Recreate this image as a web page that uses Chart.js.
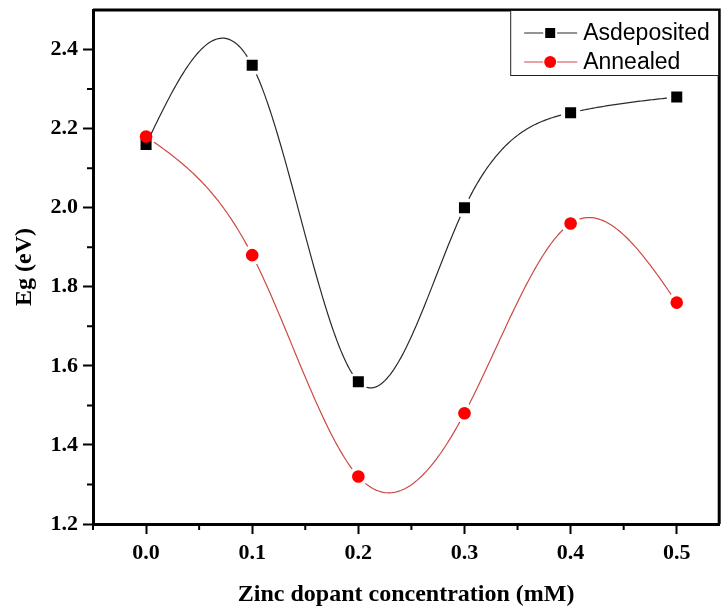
<!DOCTYPE html>
<html>
<head>
<meta charset="utf-8">
<script src="https://cdn.jsdelivr.net/npm/chart.js@4.4.1/dist/chart.umd.min.js"></script>
<style>
  html, body { margin: 0; padding: 0; background: #fff; }
  #wrap { width: 727px; height: 610px; position: relative; }
</style>
</head>
<body>
<div id="wrap"><canvas id="egChart"></canvas></div>
<script>
// Zinc dopant concentration (mM)
const concentrations = [0.0, 0.1, 0.2, 0.3, 0.4, 0.5];
// Band gap Eg (eV) for each sample set
const asDeposited = [2.16, 2.36, 1.56, 2.00, 2.24, 2.28];
const annealed = [2.18, 1.88, 1.32, 1.48, 1.96, 1.76];

// Tick labels
const xTickValues = [0.0, 0.1, 0.2, 0.3, 0.4, 0.5];
const yTickValues = [1.2, 1.4, 1.6, 1.8, 2.0, 2.2, 2.4];
const xMinorTicks = [-0.05, 0.05, 0.15, 0.25, 0.35, 0.45];
const yMinorTicks = [1.3, 1.5, 1.7, 1.9, 2.1, 2.3];

const serifFamily = '"Liberation Serif", "Times New Roman", serif';
const tickFont = { family: serifFamily, weight: 'bold', size: 22 };
const titleFont = { family: serifFamily, weight: 'bold', size: 24 };

function toPoints(values) {
    return concentrations.map((c, i) => ({ x: c, y: values[i] }));
}

// second derivatives of a natural cubic spline through (xs, ys)
function splineSecondDerivs(xs, ys) {
    const n = xs.length;
    const m = new Array(n).fill(0);
    const a = [], b = [], c = [], d = [];
    for (let i = 1; i < n - 1; i++) {
        const h0 = xs[i] - xs[i - 1], h1 = xs[i + 1] - xs[i];
        a.push(h0); b.push(2 * (h0 + h1)); c.push(h1);
        d.push(6 * ((ys[i + 1] - ys[i]) / h1 - (ys[i] - ys[i - 1]) / h0));
    }
    const k = d.length;
    for (let i = 1; i < k; i++) {
        const w = a[i] / b[i - 1];
        b[i] -= w * c[i - 1];
        d[i] -= w * d[i - 1];
    }
    for (let i = k - 1; i >= 0; i--) {
        m[i + 1] = (d[i] - (i < k - 1 ? c[i] * m[i + 2] : 0)) / b[i];
    }
    return m;
}

// Origin style spline connection with gaps around the markers
const splinePlugin = {
    id: 'splineLines',
    beforeDatasetsDraw(chart) {
        const ctx = chart.ctx;
        const area = chart.chartArea;
        const xs = chart.scales.x, ys = chart.scales.y;
        chart.data.datasets.forEach(ds => {
            const px = ds.data.map(p => p.x);
            const py = ds.data.map(p => p.y);
            const m = splineSecondDerivs(px, py);
            ctx.save();
            ctx.beginPath();
            ctx.rect(area.left, area.top, area.right - area.left, area.bottom - area.top);
            ds.data.forEach(p => {
                const cx = xs.getPixelForValue(p.x), cy = ys.getPixelForValue(p.y);
                ctx.moveTo(cx + ds.gapRadius, cy);
                ctx.arc(cx, cy, ds.gapRadius, 0, Math.PI * 2);
            });
            ctx.clip('evenodd');
            ctx.strokeStyle = ds.borderColor;
            ctx.lineWidth = ds.lineWidthSpline;
            ctx.beginPath();
            for (let i = 0; i < px.length - 1; i++) {
                const h = px[i + 1] - px[i];
                const steps = 60;
                for (let s = 0; s <= steps; s++) {
                    const t = px[i] + h * s / steps;
                    const A = (px[i + 1] - t) / h, B = (t - px[i]) / h;
                    const v = A * py[i] + B * py[i + 1] +
                        ((A * A * A - A) * m[i] + (B * B * B - B) * m[i + 1]) * h * h / 6;
                    const X = xs.getPixelForValue(t), Y = ys.getPixelForValue(v);
                    if (i === 0 && s === 0) ctx.moveTo(X, Y); else ctx.lineTo(X, Y);
                }
            }
            ctx.stroke();
            ctx.restore();
        });
    }
};

// Draws the frame, the minor ticks and the boxed legend
const framePlugin = {
    id: 'frame',
    afterDraw(chart) {
        const ctx = chart.ctx;
        const area = chart.chartArea;
        const xs = chart.scales.x;
        const ys = chart.scales.y;
        ctx.save();
        ctx.strokeStyle = '#000';
        ctx.lineWidth = 3;
        ctx.beginPath();
        ctx.moveTo(area.left, area.top);
        ctx.lineTo(area.right, area.top);
        ctx.lineTo(area.right, area.bottom);
        ctx.stroke();

        // minor ticks
        ctx.lineWidth = 2;
        ctx.beginPath();
        xMinorTicks.forEach(v => {
            const px = xs.getPixelForValue(v);
            ctx.moveTo(px, area.bottom);
            ctx.lineTo(px, area.bottom + 6);
        });
        yMinorTicks.forEach(v => {
            const py = ys.getPixelForValue(v);
            ctx.moveTo(area.left, py);
            ctx.lineTo(area.left - 6, py);
        });
        ctx.stroke();

        // legend box
        const boxW = 209, boxH = 65;
        const bx = area.right - boxW, by = area.top;
        ctx.lineWidth = 1;
        ctx.strokeStyle = '#222';
        ctx.fillStyle = '#fff';
        ctx.fillRect(bx, by + 1, boxW - 1, boxH - 1);
        ctx.strokeRect(bx + 0.5, by + 0.5, boxW - 1, boxH);
        ctx.font = '23px "Liberation Sans", Arial, sans-serif';
        ctx.textBaseline = 'middle';
        chart.data.datasets.forEach((ds, i) => {
            const cy = by + 23 + i * 29;
            ctx.strokeStyle = ds.borderColor;
            ctx.lineWidth = 1;
            ctx.beginPath();
            ctx.moveTo(bx + 14, cy);
            ctx.lineTo(bx + 33, cy);
            ctx.moveTo(bx + 47, cy);
            ctx.lineTo(bx + 67, cy);
            ctx.stroke();
            ctx.fillStyle = ds.backgroundColor;
            ctx.beginPath();
            if (ds.pointStyle === 'rect') {
                ctx.rect(bx + 35, cy - 5, 10, 10);
            } else {
                ctx.arc(bx + 40, cy, 6, 0, Math.PI * 2);
            }
            ctx.fill();
            ctx.fillStyle = '#000';
            ctx.fillText(ds.label, bx + 73, cy + 1);
        });
        ctx.restore();
    }
};

new Chart(document.getElementById('egChart'), {
    type: 'line',
    data: {
        datasets: [
            {
                label: 'Asdeposited',
                data: toPoints(asDeposited),
                borderColor: '#2a2a2a',
                backgroundColor: '#000',
                showLine: false,
                lineWidthSpline: 1.2,
                gapRadius: 10,
                pointStyle: 'rect',
                pointRadius: 7.8,
                pointBorderWidth: 0,
                order: 1
            },
            {
                label: 'Annealed',
                data: toPoints(annealed),
                borderColor: '#cc4a44',
                backgroundColor: '#ff0000',
                showLine: false,
                lineWidthSpline: 1.2,
                gapRadius: 10,
                pointStyle: 'circle',
                pointRadius: 6.3,
                pointBorderWidth: 0,
                order: 0
            }
        ]
    },
    options: {
        responsive: true,
        maintainAspectRatio: false,
        animation: false,
        layout: { padding: { top: 10, right: 5, left: 0, bottom: 0 } },
        plugins: {
            legend: { display: false },
            tooltip: { enabled: false }
        },
        scales: {
            x: {
                type: 'linear',
                min: -0.05,
                max: 0.54,
                afterBuildTicks: scale => { scale.ticks = xTickValues.map(v => ({ value: v })); },
                afterFit: scale => {
                    scale.height = 86;
                    scale.paddingLeft = 0;
                    scale.paddingRight = 0;
                },
                ticks: {
                    color: '#000',
                    font: tickFont,
                    padding: 6,
                    maxRotation: 0,
                    callback: v => v.toFixed(1)
                },
                grid: { drawOnChartArea: false, drawTicks: true, tickLength: 10, tickWidth: 2, tickColor: '#000' },
                border: { color: '#000', width: 3 },
                title: {
                    display: true,
                    text: 'Zinc dopant concentration (mM)',
                    color: '#000',
                    font: titleFont,
                    padding: { top: 0, bottom: 1 }
                }
            },
            y: {
                min: 1.2,
                max: 2.5,
                afterBuildTicks: scale => { scale.ticks = yTickValues.map(v => ({ value: v })); },
                afterFit: scale => {
                    scale.width = 93;
                    scale.paddingTop = 0;
                    scale.paddingBottom = 0;
                },
                ticks: {
                    color: '#000',
                    font: tickFont,
                    padding: 5,
                    callback: v => v.toFixed(1)
                },
                grid: { drawOnChartArea: false, drawTicks: true, tickLength: 10, tickWidth: 2, tickColor: '#000' },
                border: { color: '#000', width: 3 },
                title: {
                    display: true,
                    text: 'Eg (eV)',
                    color: '#000',
                    font: titleFont,
                    padding: { top: 10, bottom: 0 }
                }
            }
        }
    },
    plugins: [splinePlugin, framePlugin]
});
</script>
</body>
</html>
